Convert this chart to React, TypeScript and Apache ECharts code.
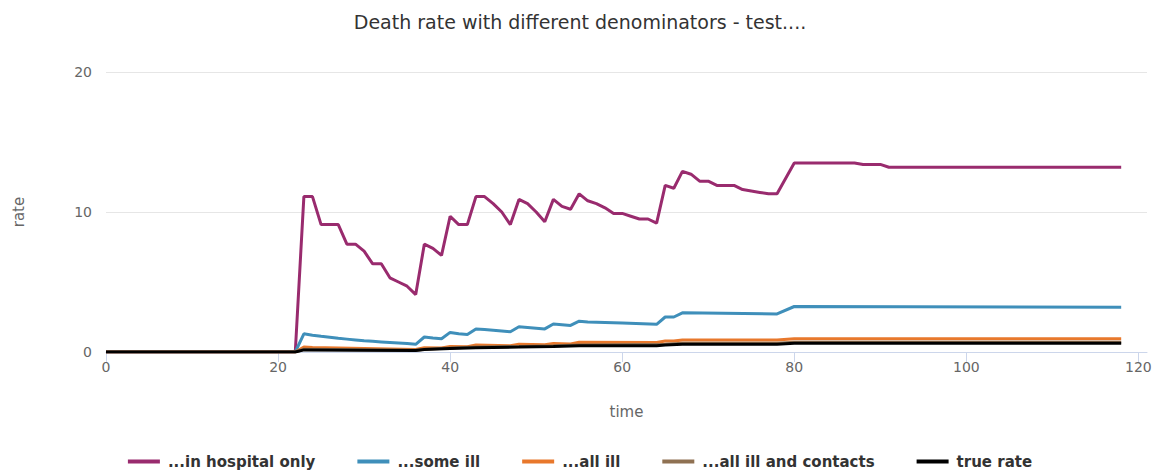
import React, { useEffect, useRef } from "react";
import * as echarts from "echarts";

const titleText = "Death rate with different denominators - test....";
const seriesNames = ["...in hospital only", "...some ill", "...all ill", "...all ill and contacts", "true rate"];
const seriesColors = ["#992b6e", "#3f8fba", "#e8782c", "#8f7152", "#000000"];
const xTicks = [0, 20, 40, 60, 80, 100, 120];
const yTicks = [0, 10, 20];

const inHospital: number[][] = [
  [0, 0], [22, 0], [23, 11.1], [24, 11.1], [25, 9.1], [26, 9.1], [27, 9.1], [28, 7.7], [29, 7.7], [30, 7.2],
  [31, 6.3], [32, 6.3], [33, 5.3], [34, 5.0], [35, 4.7], [36, 4.1], [37, 7.7], [38, 7.4], [39, 6.9], [40, 9.7],
  [41, 9.1], [42, 9.1], [43, 11.1], [44, 11.1], [45, 10.6], [46, 10.0], [47, 9.1], [48, 10.9], [49, 10.6], [50, 10.0],
  [51, 9.3], [52, 10.9], [53, 10.4], [54, 10.2], [55, 11.3], [56, 10.8], [57, 10.6], [58, 10.3], [59, 9.9], [60, 9.9],
  [61, 9.7], [62, 9.5], [63, 9.5], [64, 9.2], [65, 11.9], [66, 11.7], [67, 12.9], [68, 12.7], [69, 12.2], [70, 12.2],
  [71, 11.9], [72, 11.9], [73, 11.9], [74, 11.6], [75, 11.5], [76, 11.4], [77, 11.3], [78, 11.3], [80, 13.5], [86, 13.5],
  [87, 13.5], [88, 13.4], [90, 13.4], [91, 13.2], [118, 13.2],
];
const someIll: number[][] = [
  [0, 0], [22, 0], [23, 1.3], [24, 1.2], [25, 1.12], [26, 1.05], [27, 0.98], [28, 0.92], [29, 0.86], [30, 0.8],
  [31, 0.76], [32, 0.72], [33, 0.68], [34, 0.64], [35, 0.6], [36, 0.55], [37, 1.07], [38, 1.0], [39, 0.95], [40, 1.4],
  [41, 1.3], [42, 1.25], [43, 1.65], [44, 1.6], [45, 1.55], [46, 1.5], [47, 1.45], [48, 1.8], [49, 1.75], [50, 1.7],
  [51, 1.65], [52, 2.0], [53, 1.95], [54, 1.9], [55, 2.2], [56, 2.15], [60, 2.08], [64, 1.98], [65, 2.5], [66, 2.5],
  [67, 2.8], [78, 2.72], [80, 3.25], [118, 3.2],
];
const allIll: number[][] = [
  [0, 0], [22, 0], [23, 0.35], [24, 0.32], [30, 0.25], [36, 0.18], [37, 0.3], [39, 0.28], [40, 0.4], [42, 0.38],
  [43, 0.5], [47, 0.45], [48, 0.55], [51, 0.52], [52, 0.6], [54, 0.58], [55, 0.7], [64, 0.68], [65, 0.78], [66, 0.78],
  [67, 0.85], [78, 0.85], [80, 0.95], [118, 0.95],
];
const allIllContacts: number[][] = [
  [0, 0], [22, 0], [23, 0.2], [36, 0.12], [37, 0.2], [40, 0.28], [43, 0.35], [48, 0.4], [52, 0.45], [55, 0.5],
  [65, 0.56], [67, 0.62], [78, 0.62], [80, 0.7], [118, 0.7],
];
const trueRate: number[][] = [
  [0, 0], [22, 0], [23, 0.15], [36, 0.1], [37, 0.18], [40, 0.25], [43, 0.3], [48, 0.35], [52, 0.4], [55, 0.45],
  [64, 0.45], [65, 0.5], [67, 0.55], [78, 0.55], [80, 0.62], [118, 0.62],
];

const allData = [inHospital, someIll, allIll, allIllContacts, trueRate];

export default function App() {
  const ref = useRef<HTMLDivElement>(null);
  useEffect(() => {
    if (!ref.current) return;
    const chart = echarts.init(ref.current, null, { renderer: "svg" });
    const font = "DejaVu Sans";
    chart.setOption({
      animation: false,
      backgroundColor: "#ffffff",
      textStyle: { fontFamily: font },
      title: {
        text: titleText,
        left: "center",
        top: 7,
        textStyle: { fontFamily: font, fontSize: 19, fontWeight: "normal", color: "#333333" },
      },
      grid: { left: 106, right: 13, top: 72, bottom: 121 },
      legend: {
        bottom: -1,
        left: "center",
        itemGap: 42,
        itemWidth: 32,
        itemHeight: 4,
        icon: "rect",
        data: seriesNames,
        textStyle: { fontFamily: font, fontSize: 15, fontWeight: "bold", color: "#333333", padding: [0, 0, 0, 3] },
      },
      xAxis: {
        type: "value",
        min: 0,
        max: 121,
        name: "time",
        nameLocation: "middle",
        nameGap: 52,
        nameTextStyle: { fontFamily: font, fontSize: 15, color: "#666666" },
        axisLine: { show: true, lineStyle: { color: "#ccd6eb", width: 1 } },
        axisTick: { show: true, length: 10, customValues: xTicks, lineStyle: { color: "#ccd6eb" } },
        axisLabel: { customValues: xTicks, color: "#666666", fontSize: 14, margin: 8, fontFamily: font },
        splitLine: { show: false },
      },
      yAxis: {
        type: "value",
        min: yTicks[0],
        max: yTicks[yTicks.length - 1],
        interval: 10,
        name: "rate",
        nameLocation: "middle",
        nameGap: 80,
        nameRotate: 90,
        nameTextStyle: { fontFamily: font, fontSize: 15, color: "#666666" },
        axisLine: { show: false },
        axisTick: { show: false },
        axisLabel: { color: "#666666", fontSize: 14, margin: 14, fontFamily: font },
        splitLine: { show: true, lineStyle: { color: "#e6e6e6", width: 1 } },
      },
      series: allData.map((d, i) => ({
        name: seriesNames[i],
        type: "line",
        data: d,
        showSymbol: false,
        symbol: "none",
        lineStyle: { color: seriesColors[i], width: 3 },
        itemStyle: { color: seriesColors[i] },
        z: 2 + i,
      })),
    });
    return () => chart.dispose();
  }, []);
  return <div ref={ref} style={{ position: "fixed", left: 0, top: 0, width: 1160, height: 473 }} />;
}
